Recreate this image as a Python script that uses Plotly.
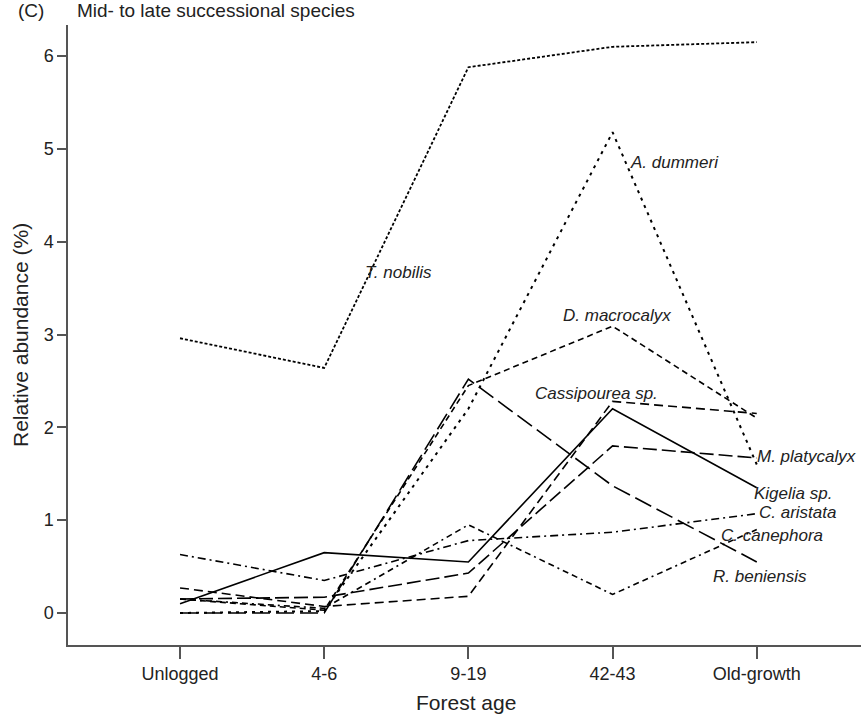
import plotly.graph_objects as go

categories = ["Unlogged", "4-6", "9-19", "42-43", "Old-growth"]

t_nobilis = [2.96, 2.64, 5.88, 6.10, 6.15]
a_dummeri = [0.00, 0.02, 2.20, 5.18, 1.60]
d_macrocalyx = [0.15, 0.03, 2.45, 3.09, 2.10]
cassipourea = [0.27, 0.07, 0.18, 2.28, 2.15]
m_platycalyx = [0.15, 0.17, 0.43, 1.80, 1.67]
kigelia = [0.10, 0.65, 0.55, 2.20, 1.35]
c_aristata = [0.63, 0.35, 0.78, 0.87, 1.07]
c_canephora = [0.15, 0.05, 0.95, 0.20, 0.90]
r_beniensis = [0.00, 0.00, 2.52, 1.37, 0.55]

species_names = ["T. nobilis", "A. dummeri", "D. macrocalyx", "Cassipourea sp.",
                 "M. platycalyx", "Kigelia sp.", "C. aristata", "C. canephora",
                 "R. beniensis"]
series = [t_nobilis, a_dummeri, d_macrocalyx, cassipourea, m_platycalyx,
          kigelia, c_aristata, c_canephora, r_beniensis]

# styles (not data)
dashes = ["3px,2px", "3px,5px", "6px,4px", "9px,5px", "14px,5px", "solid",
          "8px,4px,2px,4px", "6px,4px,6px,4px,2px,4px", "18px,6px"]
widths = [1.8, 2.0, 1.6, 1.6, 1.6, 1.6, 1.6, 1.6, 1.6]
label_pos = [(1.27, 3.67), (3.11, 4.85), (2.64, 3.20), (2.45, 2.36),
             (3.99, 1.69), (3.97, 1.29), (4.00, 1.08), (3.74, 0.83),
             (3.68, 0.39)]

xs = list(range(len(categories)))
fig = go.Figure()
for name, vals, d, w in zip(species_names, series, dashes, widths):
    fig.add_trace(go.Scatter(x=xs, y=vals, mode="lines", name=name,
                             line=dict(color="black", width=w, dash=d),
                             showlegend=False))

font = "Liberation Sans, Arial, sans-serif"
ann = []
for name, (lx, ly) in zip(species_names, label_pos):
    ann.append(dict(x=lx, y=ly, xref="x", yref="y", text="<i>%s</i>" % name,
                    showarrow=False, xanchor="left", yanchor="middle",
                    font=dict(size=17, color="#222", family=font)))

W, H = 863, 715
L, R, T, B = 68, 2, 25, 70
pw, ph = W - L - R, H - T - B

def px(xp):
    return (xp - L) / pw

def py(yp):
    return (H - B - yp) / ph

ann.append(dict(x=px(16), y=py(10), xref="paper", yref="paper", text="(C)",
                showarrow=False, xanchor="left", yanchor="middle",
                font=dict(size=19, color="#222", family=font)))
ann.append(dict(x=px(75), y=py(10), xref="paper", yref="paper",
                text="Mid- to late successional species",
                showarrow=False, xanchor="left", yanchor="middle",
                font=dict(size=19, color="#222", family=font)))
ann.append(dict(x=px(20), y=py(335), xref="paper", yref="paper",
                text="Relative abundance (%)", textangle=-90,
                showarrow=False, xanchor="center", yanchor="middle",
                font=dict(size=21, color="#222", family=font)))
ann.append(dict(x=px(466), y=py(702), xref="paper", yref="paper",
                text="Forest age",
                showarrow=False, xanchor="center", yanchor="middle",
                font=dict(size=21, color="#222", family=font)))

fig.update_layout(
    width=W, height=H,
    margin=dict(l=L, r=R, t=T, b=B),
    plot_bgcolor="white", paper_bgcolor="white",
    annotations=ann,
    xaxis=dict(range=[-0.777, 4.723], tickvals=xs, ticktext=categories,
               showline=True, linecolor="#555", linewidth=1.5,
               ticks="outside", ticklen=12, tickwidth=1.5, tickcolor="#555",
               showgrid=False, zeroline=False,
               tickfont=dict(size=18, color="#222", family=font)),
    yaxis=dict(range=[-0.345, 6.335], tickvals=[0, 1, 2, 3, 4, 5, 6],
               showline=True, linecolor="#555", linewidth=1.5,
               ticks="outside", ticklen=9, tickwidth=1.5, tickcolor="#555",
               showgrid=False, zeroline=False,
               tickfont=dict(size=18, color="#222", family=font)),
)

fig.write_html("out.html")
